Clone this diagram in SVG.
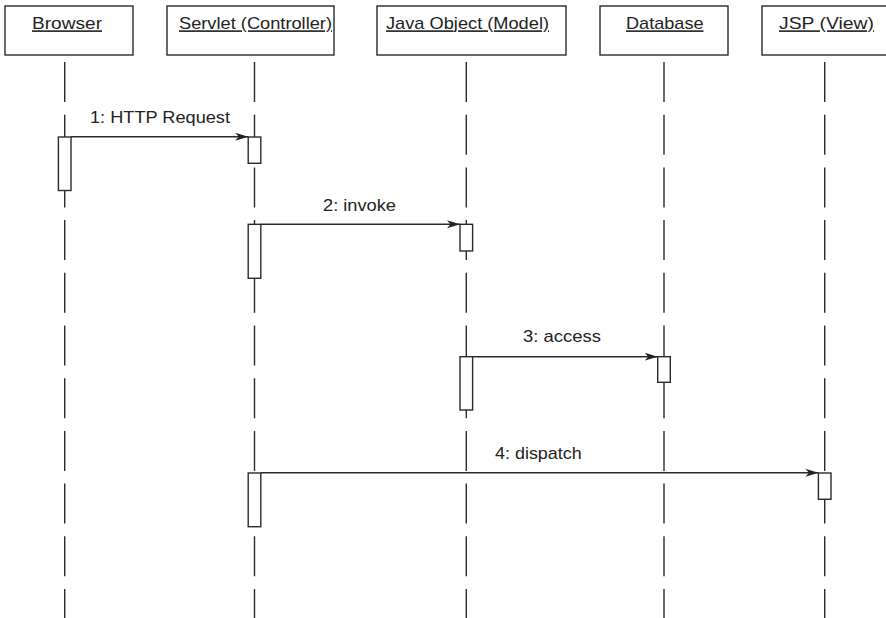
<svg xmlns="http://www.w3.org/2000/svg" width="886" height="618" viewBox="0 0 886 618">
  <style>
    .obj { fill: #fff; stroke: #2a2a2a; stroke-width: 1.4; }
    .life { stroke: #2a2a2a; stroke-width: 1.4; stroke-dasharray: 40 12.7; fill: none; }
    .act { fill: #fff; stroke: #2a2a2a; stroke-width: 1.4; }
    .msg { stroke: #2a2a2a; stroke-width: 1.4; fill: none; marker-end: url(#arrow); }
    text { font-family: "Liberation Sans", Arial, sans-serif; font-size: 16.2px; fill: #222; }
    .name { text-decoration: underline; }
  </style>
  <defs>
    <marker id="arrow" markerUnits="userSpaceOnUse" markerWidth="16" markerHeight="10" viewBox="0 -5 16 10" refX="13" refY="0" orient="auto">
      <path d="M0,-4 L13,0 L0,4 L3.5,0 z" fill="#222"/>
    </marker>
  </defs>

  <!-- lifelines -->
  <g id="lifelines">
    <line class="life" x1="64.7" y1="62" x2="64.7" y2="618"/>
    <line class="life" x1="254.5" y1="62" x2="254.5" y2="618"/>
    <line class="life" x1="466.3" y1="62" x2="466.3" y2="618"/>
    <line class="life" x1="664" y1="62" x2="664" y2="618"/>
    <line class="life" x1="824.7" y1="62" x2="824.7" y2="618"/>
  </g>

  <!-- participants -->
  <g id="browser">
    <rect class="obj" x="5" y="6" width="128" height="49"/>
    <text class="name" x="32" y="29.3" textLength="70" lengthAdjust="spacingAndGlyphs">Browser</text>
  </g>
  <g id="servlet">
    <rect class="obj" x="167" y="6" width="167" height="49"/>
    <text class="name" x="179" y="29.3" textLength="153" lengthAdjust="spacingAndGlyphs">Servlet (Controller)</text>
  </g>
  <g id="model">
    <rect class="obj" x="377" y="6" width="189" height="49"/>
    <text class="name" x="386" y="29.3" textLength="163" lengthAdjust="spacingAndGlyphs">Java Object (Model)</text>
  </g>
  <g id="database">
    <rect class="obj" x="600" y="6" width="128" height="49"/>
    <text class="name" x="626" y="29.3" textLength="77.5" lengthAdjust="spacingAndGlyphs">Database</text>
  </g>
  <g id="view">
    <rect class="obj" x="762" y="6" width="130" height="49"/>
    <text class="name" x="779" y="29.3" textLength="95" lengthAdjust="spacingAndGlyphs">JSP (View)</text>
  </g>

  <!-- activation bars -->
  <g id="activations">
    <rect class="act" x="58.4" y="137" width="12.6" height="53.5"/>
    <rect class="act" x="248.2" y="137" width="12.6" height="26.3"/>
    <rect class="act" x="248.2" y="224.3" width="12.6" height="54"/>
    <rect class="act" x="460" y="224.3" width="12.6" height="26.7"/>
    <rect class="act" x="460" y="356.7" width="12.6" height="53.3"/>
    <rect class="act" x="657.7" y="356.7" width="12.6" height="25.6"/>
    <rect class="act" x="248.2" y="473" width="12.6" height="53.7"/>
    <rect class="act" x="818.4" y="473" width="12.6" height="26.3"/>
  </g>

  <!-- messages -->
  <g id="connectors">
    <line class="msg" x1="71" y1="136.8" x2="248.2" y2="136.8"/>
    <line class="msg" x1="260.8" y1="224.3" x2="460" y2="224.3"/>
    <line class="msg" x1="472.6" y1="356.7" x2="657.7" y2="356.7"/>
    <line class="msg" x1="260.8" y1="472.8" x2="818.4" y2="472.8"/>
    <text x="90" y="122.7" textLength="140" lengthAdjust="spacingAndGlyphs">1: HTTP Request</text>
    <text x="323" y="210.7" textLength="73" lengthAdjust="spacingAndGlyphs">2: invoke</text>
    <text x="523" y="341.7" textLength="78" lengthAdjust="spacingAndGlyphs">3: access</text>
    <text x="495" y="459.3" textLength="86.7" lengthAdjust="spacingAndGlyphs">4: dispatch</text>
  </g>
</svg>
